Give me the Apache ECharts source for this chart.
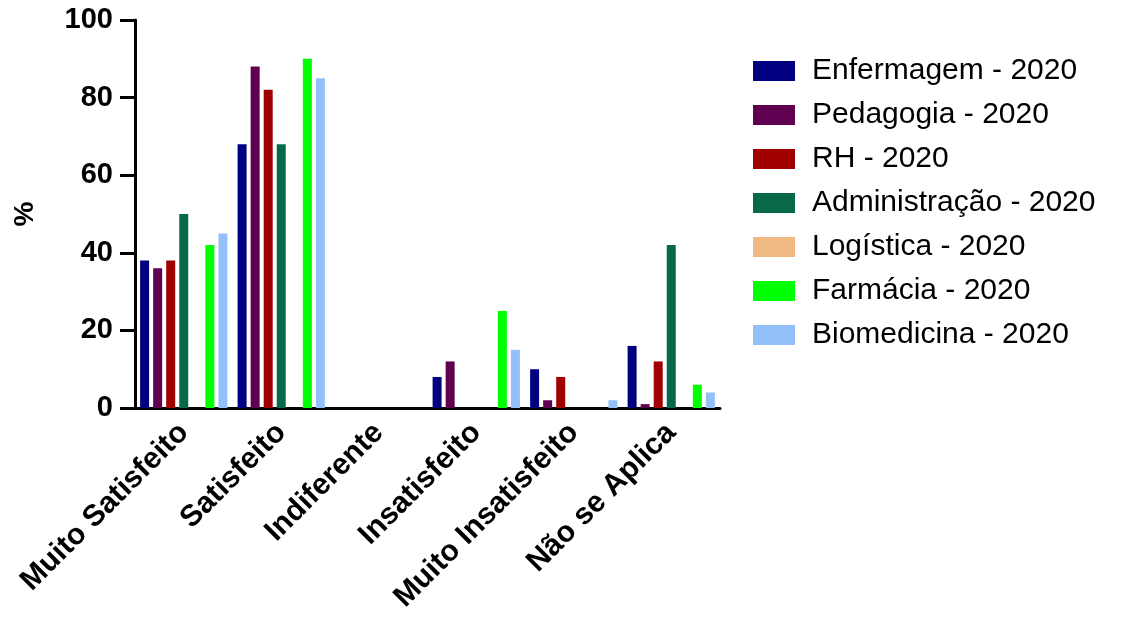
<!DOCTYPE html>
<html>
<head>
<meta charset="utf-8">
<script src="https://cdn.jsdelivr.net/npm/echarts@6/dist/echarts.min.js"></script>
<style>html,body{margin:0;padding:0;background:#fff}#c{width:1121px;height:624px}</style>
</head>
<body>
<div id="c"></div>
<script>
const categories = ['Muito Satisfeito', 'Satisfeito', 'Indiferente', 'Insatisfeito', 'Muito Insatisfeito', 'Não se Aplica'];
const enfermagem = [38, 68, 0, 8, 10, 16];
const pedagogia = [36, 88, 0, 12, 2, 1];
const rh = [38, 82, 0, 0, 8, 12];
const administracao = [50, 68, 0, 0, 0, 42];
const logistica = [0, 0, 0, 0, 0, 0];
const farmacia = [42, 90, 0, 25, 0, 6];
const biomedicina = [45, 85, 0, 15, 2, 4];
const yTicks = [0, 20, 40, 60, 80, 100];

const seriesDefs = [
  ['Enfermagem - 2020', enfermagem, '#000080'],
  ['Pedagogia - 2020', pedagogia, '#600050'],
  ['RH - 2020', rh, '#a00000'],
  ['Administração - 2020', administracao, '#07694a'],
  ['Logística - 2020', logistica, '#f0b882'],
  ['Farmácia - 2020', farmacia, '#00ff00'],
  ['Biomedicina - 2020', biomedicina, '#93c0f8']
];

const chart = echarts.init(document.getElementById('c'));
chart.setOption({
  animation: false,
  backgroundColor: '#fff',
  textStyle: { fontFamily: 'Liberation Sans, Arial, sans-serif' },
  grid: { left: 135, top: 20, width: 585, bottom: 216, containLabel: false },
  legend: {
    orient: 'vertical',
    left: 748,
    top: 51,
    itemWidth: 42,
    itemHeight: 20,
    itemGap: 14,
    icon: 'rect',
    textStyle: { fontSize: 30, color: '#000', padding: [0, 0, 0, 12], fontFamily: 'Liberation Sans, Arial, sans-serif' },
    data: seriesDefs.map(d => d[0])
  },
  xAxis: {
    type: 'category',
    data: categories,
    axisLine: { lineStyle: { color: '#000', width: 3 } },
    axisTick: { alignWithLabel: true, length: 10, lineStyle: { color: '#000', width: 3 } },
    axisLabel: { rotate: 45, fontSize: 30, fontWeight: 'bold', color: '#000', margin: 20, interval: 0 }
  },
  yAxis: {
    type: 'value',
    min: 0, max: 100, interval: 20,
    name: '%',
    nameLocation: 'middle',
    nameGap: 96,
    nameRotate: 90,
    nameTextStyle: { fontSize: 28, fontWeight: 'bold', color: '#000' },
    axisLine: { show: true, lineStyle: { color: '#000', width: 3 } },
    axisTick: { show: true, length: 15, lineStyle: { color: '#000', width: 3 } },
    axisLabel: { fontSize: 29, fontWeight: 'bold', color: '#000', margin: 22,
      formatter: v => yTicks.includes(v) ? String(v) : '' },
    splitLine: { show: false }
  },
  series: seriesDefs.map(d => ({
    name: d[0],
    type: 'bar',
    data: d[1],
    barWidth: 9,
    barGap: '45%',
    itemStyle: { color: d[2] }
  }))
});
</script>
</body>
</html>
